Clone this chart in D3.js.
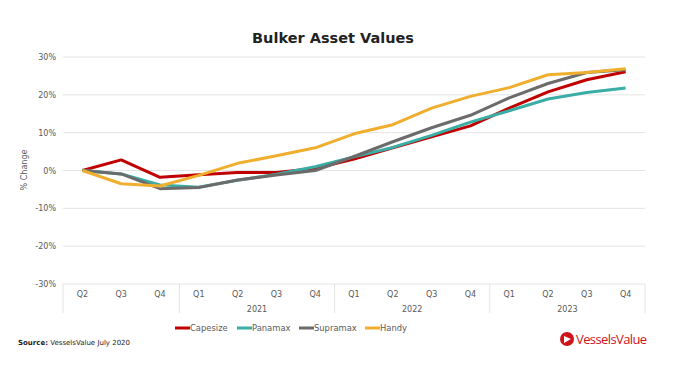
<!DOCTYPE html>
<html><head><meta charset="utf-8">
<script src="https://cdn.jsdelivr.net/npm/d3@7"></script>
<style>body{margin:0;background:#fff;}svg{display:block;font-family:"DejaVu Sans",Verdana,sans-serif;}</style>
</head><body>
<svg id="c" width="679" height="380"></svg>
<script>
const quarters = ["Q2","Q3","Q4","Q1","Q2","Q3","Q4","Q1","Q2","Q3","Q4","Q1","Q2","Q3","Q4"];
const years = [{label:"",from:0,to:2},{label:"2021",from:3,to:6},{label:"2022",from:7,to:10},{label:"2023",from:11,to:14}];
const capesize = [0, 2.8, -1.8, -1.1, -0.5, -0.5, 0.5, 3.0, 6.0, 8.9, 11.8, 16.5, 20.8, 24.0, 26.1];
const panamax  = [0, -0.9, -3.8, -4.4, -2.6, -1.0, 1.0, 3.6, 6.1, 9.3, 12.8, 15.8, 18.9, 20.6, 21.8];
const supramax = [0, -0.9, -4.8, -4.5, -2.5, -1.2, 0.0, 3.7, 7.6, 11.3, 14.6, 19.2, 23.0, 25.9, 26.6];
const handy    = [0, -3.5, -4.1, -1.3, 1.9, 3.9, 6.0, 9.7, 12.1, 16.5, 19.6, 21.9, 25.3, 25.9, 26.9];
const yTicks = [-30,-20,-10,0,10,20,30];
const series = [
  {name:"Capesize", values:capesize, color:"#C00000"},
  {name:"Panamax", values:panamax, color:"#3AAEA5"},
  {name:"Supramax", values:supramax, color:"#6B6B6B"},
  {name:"Handy", values:handy, color:"#F0AE2E"}
];

const svg = d3.select("#c");
const L=63, R=645, T=57, B=284;
const x = d3.scaleBand().domain(d3.range(quarters.length)).range([L,R]);
const y = d3.scaleLinear().domain([-30,30]).range([B,T]);

svg.append("text").attr("x",333).attr("y",43).attr("text-anchor","middle")
  .attr("font-size",14.5).attr("font-weight","bold").attr("fill","#222").text("Bulker Asset Values");

// grid
svg.append("g").selectAll("line").data(yTicks).join("line")
  .attr("x1",L).attr("x2",R).attr("y1",d=>y(d)).attr("y2",d=>y(d))
  .attr("stroke","#e4e4e4").attr("stroke-width",1);
svg.append("g").selectAll("text").data(yTicks).join("text")
  .attr("x",56).attr("y",d=>y(d)+3).attr("text-anchor","end")
  .attr("font-size",8).attr("fill","#595959").text(d=>d+"%");
svg.append("text").attr("transform","translate(27,170) rotate(-90)").attr("text-anchor","middle")
  .attr("font-size",8).attr("fill","#595959").text("% Change");

// x axis category labels
svg.append("g").selectAll("text").data(quarters).join("text")
  .attr("x",(d,i)=>x(i)+x.bandwidth()/2).attr("y",297).attr("text-anchor","middle")
  .attr("font-size",8).attr("fill","#595959").text(d=>d);
const seps = [L].concat(years.map(g=>x(g.to)+x.bandwidth()));
svg.append("g").selectAll("line").data(seps).join("line")
  .attr("x1",d=>d).attr("x2",d=>d).attr("y1",B).attr("y2",313)
  .attr("stroke","#e4e4e4");
svg.append("g").selectAll("text").data(years).join("text")
  .attr("x",g=>(x(g.from)+x(g.to)+x.bandwidth())/2).attr("y",312).attr("text-anchor","middle")
  .attr("font-size",8).attr("fill","#595959").text(g=>g.label);

// lines
const line = d3.line().x((d,i)=>x(i)+x.bandwidth()/2).y(d=>y(d));
svg.append("g").selectAll("path").data(series).join("path")
  .attr("d",s=>line(s.values)).attr("fill","none").attr("stroke",s=>s.color)
  .attr("stroke-width",3).attr("stroke-linejoin","round");

// legend
const lx = [175,237,299,365];
const lg = svg.append("g").selectAll("g").data(series).join("g")
  .attr("transform",(s,i)=>`translate(${lx[i]},328)`);
lg.append("line").attr("x1",0).attr("x2",15).attr("stroke",s=>s.color).attr("stroke-width",3);
lg.append("text").attr("x",15).attr("y",3).attr("font-size",8.4).attr("fill","#595959").text(s=>s.name);

// source
const src = svg.append("text").attr("x",18).attr("y",345).attr("font-size",7).attr("fill","#222");
src.append("tspan").attr("font-weight","bold").text("Source:");
src.append("tspan").text(" VesselsValue July 2020");

// logo
const logo = svg.append("g").attr("transform","translate(567,339)");
logo.append("circle").attr("r",7).attr("fill","#D0121B");
logo.append("path").attr("d","M-3,-3 L4,0 L-3,4 Z").attr("fill","#fff");
svg.append("text").attr("x",576).attr("y",344).attr("font-size",13).attr("fill","#D0121B")
  .attr("font-family","'Open Sans',sans-serif").attr("letter-spacing","-0.6").text("VesselsValue");
</script>
</body></html>
